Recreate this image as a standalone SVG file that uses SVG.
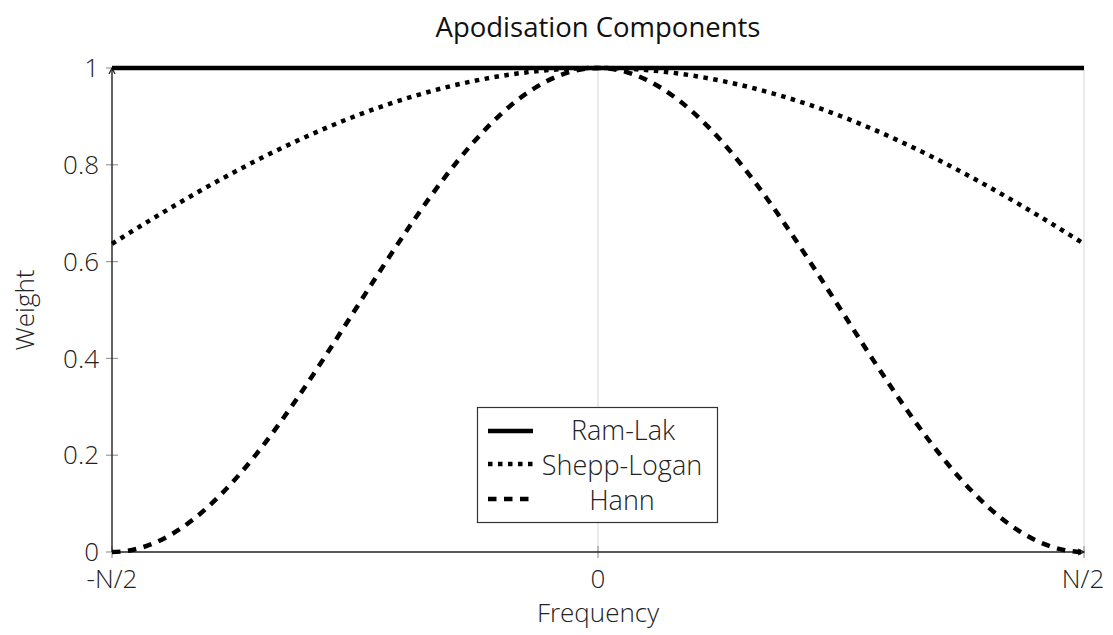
<svg xmlns="http://www.w3.org/2000/svg" width="1113" height="635" viewBox="0 0 1113 635">
<style>
.lbl{font-family:"Open Sans","DejaVu Sans",sans-serif;font-weight:300;font-size:26px;fill:#222}
.leg{font-family:"Open Sans","DejaVu Sans",sans-serif;font-weight:300;font-size:27px;fill:#222}
.title{font-family:"Open Sans","DejaVu Sans",sans-serif;font-weight:400;font-size:27.5px;fill:#111}
.grid{stroke:#e3e3e3;stroke-width:1.5;fill:none}
.axis{stroke:#222;stroke-width:1.4;fill:none}
.tick{stroke:#999;stroke-width:1.2}
.curve{fill:none;stroke:#000;stroke-width:4.5}
.solid{}
.dot{stroke-dasharray:4.5 5.5}
.dash{stroke-dasharray:8.5 7.5}
</style>
<defs>
<marker id="arr" viewBox="0 0 8 8" refX="7" refY="4" markerWidth="8" markerHeight="8" markerUnits="userSpaceOnUse" orient="auto">
<path d="M1,1 L7,4 L1,7" fill="none" stroke="#222" stroke-width="1.2"/>
</marker>
</defs>
<rect width="1113" height="635" fill="#fff"/>
<text class="title" x="598" y="37" text-anchor="middle">Apodisation Components</text>
<g id="grid">
<line class="grid" x1="598" y1="68" x2="598" y2="552"/>
<line class="grid" x1="1084" y1="68" x2="1084" y2="552"/>
<line class="grid" x1="112" y1="68" x2="1084" y2="68"/>
</g>
<g id="ticks">
<line class="tick" x1="106" y1="68" x2="118" y2="68"/>
<line class="tick" x1="106" y1="164.8" x2="118" y2="164.8"/>
<line class="tick" x1="106" y1="261.6" x2="118" y2="261.6"/>
<line class="tick" x1="106" y1="358.4" x2="118" y2="358.4"/>
<line class="tick" x1="106" y1="455.2" x2="118" y2="455.2"/>
<line class="tick" x1="106" y1="552" x2="118" y2="552"/>
<line class="tick" x1="112" y1="546" x2="112" y2="558"/>
<line class="tick" x1="598" y1="546" x2="598" y2="558"/>
<line class="tick" x1="1084" y1="546" x2="1084" y2="558"/>
</g>
<g id="axes">
<line class="axis" x1="112" y1="552" x2="112" y2="68" marker-end="url(#arr)"/>
<line class="axis" x1="112" y1="552" x2="1084" y2="552" marker-end="url(#arr)"/>
</g>
<g id="ylabels" class="lbl" text-anchor="end">
<text x="99" y="77">1</text>
<text x="99" y="174">0.8</text>
<text x="99" y="271">0.6</text>
<text x="99" y="367.5">0.4</text>
<text x="99" y="464">0.2</text>
<text x="99" y="561">0</text>
</g>
<g id="xlabels" class="lbl" text-anchor="middle">
<text x="112" y="588">-N/2</text>
<text x="598" y="588">0</text>
<text x="1083" y="588">N/2</text>
</g>
<text class="lbl" x="598" y="622" text-anchor="middle">Frequency</text>
<text class="lbl" transform="translate(34,310) rotate(-90)" text-anchor="middle">Weight</text>
<g id="connectors">
<path id="hann" class="curve dash" d="M112,552 C199.94,552 275.75,433.97 355,310 C434.25,186.03 510.06,68 598,68 C685.94,68 761.75,186.03 841,310 C920.25,433.97 996.06,552 1084,552"/>
<path id="shepp" class="curve dot" d="M112,243.88 C193,192.52 274,147.41 355,116.25 C436,85.07 517,68 598,68 C679,68 760,85.07 841,116.25 C922,147.41 1003,192.52 1084,243.88"/>
<line id="ramlak" class="curve solid" x1="112" y1="68" x2="1084" y2="68"/>
</g>
<g id="legend">
<rect x="477.5" y="407.5" width="240" height="115" fill="#fff" stroke="#333" stroke-width="1.2"/>
<line class="curve solid" x1="488" y1="431" x2="533" y2="431"/>
<line class="curve dot" x1="488" y1="464" x2="533" y2="464"/>
<line class="curve dash" x1="488" y1="499" x2="533" y2="499"/>
<text class="leg" x="623" y="440" text-anchor="middle">Ram-Lak</text>
<text class="leg" x="622" y="475" text-anchor="middle">Shepp-Logan</text>
<text class="leg" x="622" y="510" text-anchor="middle">Hann</text>
</g>
</svg>
